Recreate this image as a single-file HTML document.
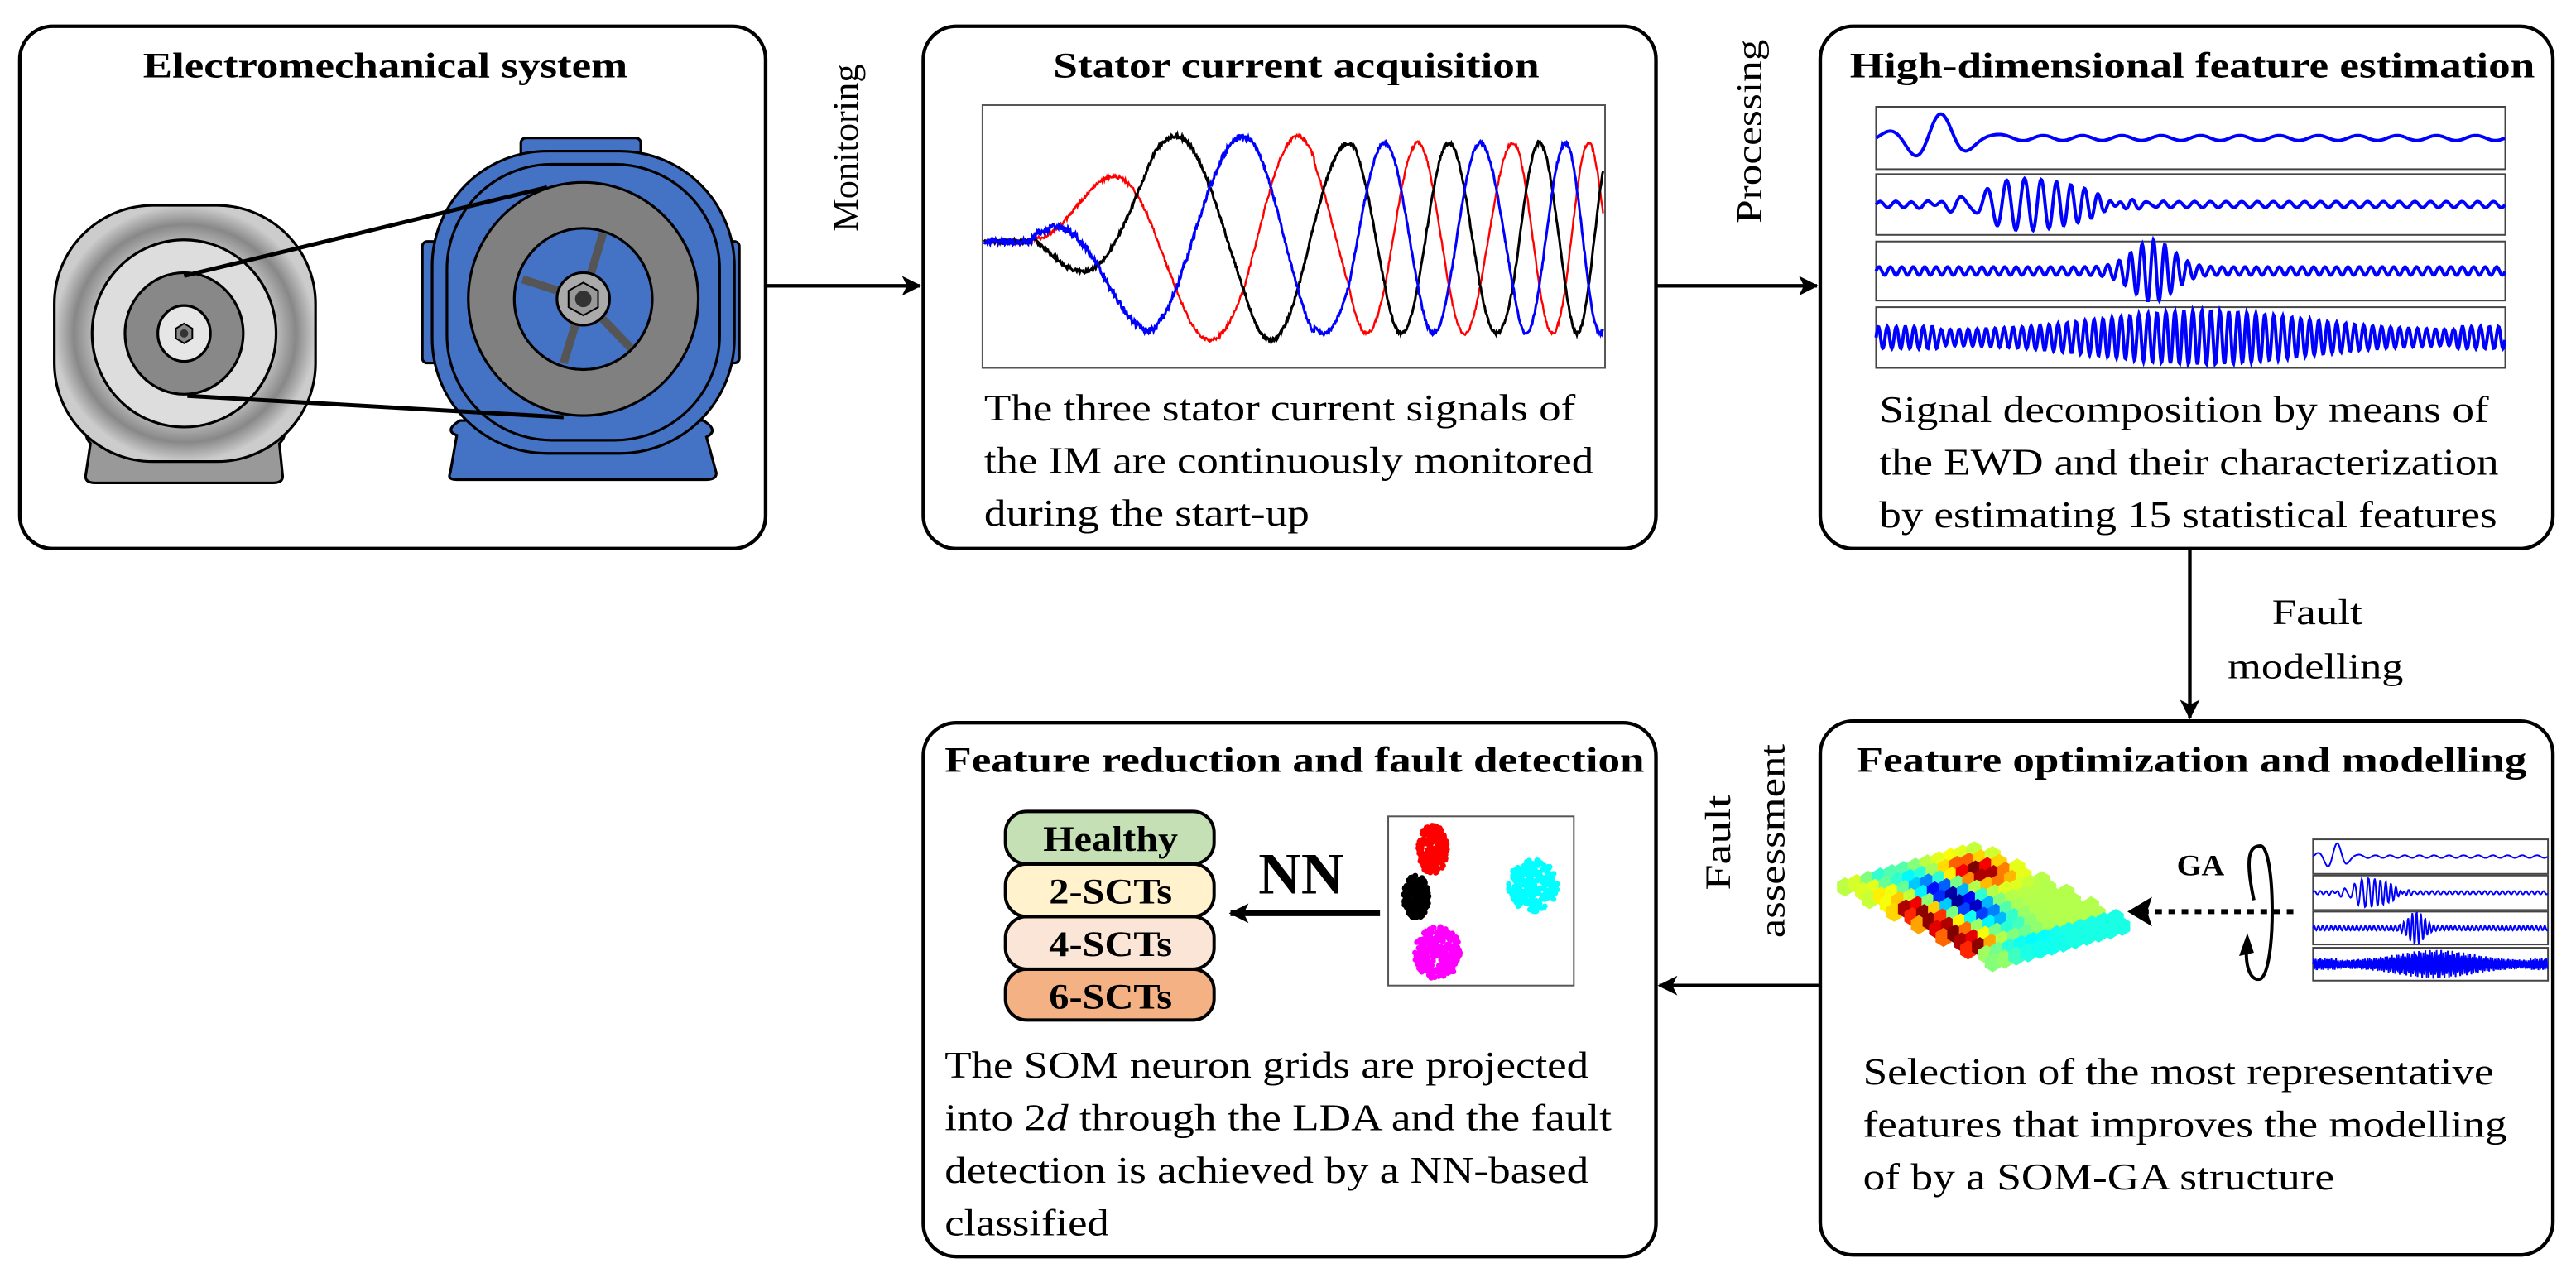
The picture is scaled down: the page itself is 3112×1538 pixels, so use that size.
<!DOCTYPE html>
<html><head><meta charset="utf-8"><style>
html,body{margin:0;padding:0;background:#fff}
svg{display:block}
svg text{font-family:"Liberation Serif","DejaVu Serif","Times New Roman",serif !important;fill:#000}
</style></head><body>
<svg id="s" width="3112" height="1538" viewBox="0 0 1568 775" xmlns="http://www.w3.org/2000/svg">
<defs>
<marker id="ah" markerWidth="12" markerHeight="12" refX="11" refY="6" orient="auto" markerUnits="userSpaceOnUse">
<path d="M0,0 L12,6 L0,12 L3,6 Z" fill="#000"/></marker>
<radialGradient id="gg" cx="50%" cy="50%" r="50%">
<stop offset="0.6" stop-color="#ddd"/><stop offset="0.85" stop-color="#888"/><stop offset="1" stop-color="#ccc"/></radialGradient>
</defs>
<g fill="none" stroke="#000" stroke-width="2.2">
<rect x="12" y="16" width="454" height="318" rx="20"/>
<rect x="562" y="16" width="446" height="318" rx="20"/>
<rect x="1108" y="16" width="446" height="318" rx="20"/>
<rect x="1108" y="439" width="446" height="325" rx="20"/>
<rect x="562" y="440" width="446" height="325" rx="20"/>
</g>
<g stroke="#000" stroke-width="2.2" fill="none">
<line x1="466" y1="174" x2="560" y2="174" marker-end="url(#ah)"/>
<line x1="1008" y1="174" x2="1106" y2="174" marker-end="url(#ah)"/>
<line x1="1333" y1="334" x2="1333" y2="437" marker-end="url(#ah)"/>
<line x1="1108" y1="600" x2="1010" y2="600" marker-end="url(#ah)"/>
</g>
<g font-size="22">
<text transform="translate(522,90) rotate(-90)" text-anchor="middle" textLength="102" lengthAdjust="spacingAndGlyphs">Monitoring</text>
<text transform="translate(1072,80) rotate(-90)" text-anchor="middle" textLength="112" lengthAdjust="spacingAndGlyphs">Processing</text>
<text x="1383" y="380" textLength="55" lengthAdjust="spacingAndGlyphs">Fault</text>
<text x="1356" y="413" textLength="107" lengthAdjust="spacingAndGlyphs">modelling</text>
<text transform="translate(1053,513) rotate(-90)" text-anchor="middle" textLength="58" lengthAdjust="spacingAndGlyphs">Fault</text>
<text transform="translate(1086,512) rotate(-90)" text-anchor="middle" textLength="118" lengthAdjust="spacingAndGlyphs">assessment</text>
</g>
<g font-weight="bold" font-size="22">
<text x="87" y="47" textLength="295" lengthAdjust="spacingAndGlyphs">Electromechanical system</text>
<text x="641" y="47" textLength="296" lengthAdjust="spacingAndGlyphs">Stator current acquisition</text>
<text x="1126" y="47" textLength="417" lengthAdjust="spacingAndGlyphs">High-dimensional feature estimation</text>
<text x="1130" y="470" textLength="408" lengthAdjust="spacingAndGlyphs">Feature optimization and modelling</text>
<text x="575" y="470" textLength="426" lengthAdjust="spacingAndGlyphs">Feature reduction and fault detection</text>
</g>
<g font-size="23">
<text x="599" y="256" textLength="360" lengthAdjust="spacingAndGlyphs">The three stator current signals of</text>
<text x="599" y="288" textLength="371" lengthAdjust="spacingAndGlyphs">the IM are continuously monitored</text>
<text x="599" y="320" textLength="198" lengthAdjust="spacingAndGlyphs">during the start-up</text>
<text x="1144" y="257" textLength="371" lengthAdjust="spacingAndGlyphs">Signal decomposition by means of</text>
<text x="1144" y="289" textLength="377" lengthAdjust="spacingAndGlyphs">the EWD and their characterization</text>
<text x="1144" y="321" textLength="376" lengthAdjust="spacingAndGlyphs">by estimating 15 statistical features</text>
<text x="1134" y="660" textLength="384" lengthAdjust="spacingAndGlyphs">Selection of the most representative</text>
<text x="1134" y="692" textLength="392" lengthAdjust="spacingAndGlyphs">features that improves the modelling</text>
<text x="1134" y="724" textLength="287" lengthAdjust="spacingAndGlyphs">of by a SOM-GA structure</text>
<text x="575" y="656" textLength="392" lengthAdjust="spacingAndGlyphs">The SOM neuron grids are projected</text>
<text x="575" y="688" textLength="406" lengthAdjust="spacingAndGlyphs">into 2<tspan font-style="italic">d</tspan> through the LDA and the fault</text>
<text x="575" y="720" textLength="392" lengthAdjust="spacingAndGlyphs">detection is achieved by a NN-based</text>
<text x="575" y="752" textLength="100" lengthAdjust="spacingAndGlyphs">classified</text>
</g>
<g stroke="#000" stroke-width="1.6">
<path d="M55,270 Q48,262 60,258 L165,258 Q178,262 170,270 L172,290 Q172,294 166,294 L58,294 Q52,294 52,290 Z" fill="#999"/>
<rect x="33" y="125" width="159" height="156" rx="60" fill="url(#gg)"/>
<ellipse cx="112" cy="203" rx="56" ry="57" fill="#ddd"/>
<ellipse cx="112" cy="203" rx="36" ry="37" fill="#888"/>
<ellipse cx="112" cy="203" rx="16" ry="17" fill="#e6e6e6"/>
<path d="M112,197 l5,3 v6 l-5,3 l-5,-3 v-6z" fill="#888" stroke-width="1"/>
<circle cx="112" cy="203" r="2.5" fill="#333" stroke="none"/>
<path d="M278,265 Q270,262 280,256 L428,256 Q438,262 430,266 L436,288 Q436,292 430,292 L278,292 Q272,292 274,288 Z" fill="#4472c4"/>
<rect x="317" y="84" width="73" height="16" rx="3" fill="#4472c4"/>
<rect x="257" y="147" width="12" height="74" rx="3" fill="#4472c4"/>
<rect x="438" y="147" width="12" height="74" rx="3" fill="#4472c4"/>
<rect x="263" y="92" width="184" height="184" rx="70" fill="#4472c4"/>
<rect x="272" y="100" width="166" height="168" rx="64" fill="none"/>
<ellipse cx="355" cy="182" rx="70" ry="71" fill="#808080"/>
<ellipse cx="355" cy="182" rx="42" ry="43" fill="#4472c4"/>
<g stroke="#555" stroke-width="5"><line x1="355" y1="182" x2="367" y2="142"/><line x1="355" y1="182" x2="318" y2="170"/><line x1="355" y1="182" x2="384" y2="212"/><line x1="355" y1="182" x2="343" y2="221"/></g>
<circle cx="355" cy="182" r="16" fill="#aaa"/>
<path d="M355,172 l9,5 v10 l-9,5 l-9,-5 v-10z" fill="#999" stroke-width="1"/>
<circle cx="355" cy="182" r="5" fill="#333" stroke="none"/>
<line x1="112" y1="168" x2="333" y2="114" stroke-width="2.5"/>
<line x1="114" y1="241" x2="343" y2="254" stroke-width="2.5"/>
</g>
<rect x="598" y="64" width="379" height="160" fill="#fff" stroke="#555" stroke-width="1"/>
<g id="sig" fill="none"></g>
<g id="ewd"></g>
<g id="ewd2"></g>
<g id="som"></g>
<line x1="1396" y1="555" x2="1305" y2="555" stroke="#000" stroke-width="3" stroke-dasharray="4,4"/>
<path d="M1295,555 L1310,546 L1307,555 L1310,564 Z" fill="#000"/>
<text x="1325" y="533" font-weight="bold" font-size="18" textLength="29" lengthAdjust="spacingAndGlyphs">GA</text>
<path d="M1372,548 C1366,520 1370,515 1376,515 C1385,515 1386,590 1376,596 C1369,598 1366,585 1368,574" fill="none" stroke="#000" stroke-width="2"/>
<path d="M1368,568 L1363,582 L1372,580 Z" fill="#000"/>
<g stroke="#000" stroke-width="2">
<rect x="612" y="590" width="127" height="31" rx="13" fill="#f4b183"/>
<rect x="612" y="558" width="127" height="32" rx="13" fill="#fbe5d6"/>
<rect x="612" y="526" width="127" height="32" rx="13" fill="#fff2cc"/>
<rect x="612" y="494" width="127" height="32" rx="13" fill="#c5e0b4"/>
</g>
<g font-weight="bold" font-size="22" text-anchor="middle">
<text x="676" y="518" textLength="82" lengthAdjust="spacingAndGlyphs">Healthy</text>
<text x="676" y="550" textLength="75" lengthAdjust="spacingAndGlyphs">2-SCTs</text>
<text x="676" y="582" textLength="75" lengthAdjust="spacingAndGlyphs">4-SCTs</text>
<text x="676" y="614" textLength="75" lengthAdjust="spacingAndGlyphs">6-SCTs</text>
</g>
<text x="792" y="544" font-weight="bold" font-size="36" text-anchor="middle" textLength="52" lengthAdjust="spacingAndGlyphs">NN</text>
<line x1="840" y1="556" x2="749" y2="556" stroke="#000" stroke-width="3.5" marker-end="url(#ah)"/>
<rect x="845" y="497" width="113" height="103" fill="#fff" stroke="#555" stroke-width="1"/>
<g id="sc"></g>
</svg>
<script>
var NS="http://www.w3.org/2000/svg";
function el(p,t,a){var e=document.createElementNS(NS,t);for(var k in a)e.setAttribute(k,a[k]);p.appendChild(e);return e;}
var seed=7;function rnd(){seed=(seed*16807)%2147483647;return seed/2147483647;}
var pk=[572,620,668,716,757,790,821,843,863,882,901,921,937,953,967,981];
function phi(x){
 for(var i=0;i<pk.length-1;i++){if(x<=pk[i+1]){var f=(x-pk[i])/(pk[i+1]-pk[i]);return (i-3+f)*2*Math.PI/3;}}
 return (pk.length-4)*2*Math.PI/3;
}
var g=document.getElementById('sig');
var pts=[[],[],[]];
for(var x=599;x<=976;x+=0.4){
 var p=phi(x);
 var A=x<628?0:Math.min(1,(x-628)/75);
 var amp=A*(x<800?62:58);
 for(var i=0;i<3;i++){
  var y=145-amp*Math.cos(p-i*2*Math.PI/3);
  if(x<628)y=147;
  var n=(i==1&&x<760)?4:2;
  y+=(rnd()-0.5)*n;
  pts[i].push(x.toFixed(1)+','+y.toFixed(1));}
}
el(g,'polyline',{points:pts[2].join(' '),stroke:'#f00','stroke-width':1.2});
el(g,'polyline',{points:pts[0].join(' '),stroke:'#000','stroke-width':1.5});
el(g,'polyline',{points:pts[1].join(' '),stroke:'#00f','stroke-width':1.5});
function panel(par,x0,y0,w,h,kind,sw,lw){
 el(par,'rect',{x:x0,y:y0,width:w,height:h,fill:'#fff',stroke:'#444','stroke-width':1});
 var p=[];var cy=y0+h/2;
 for(var x=0;x<=w;x+=0.4){var t=x/w,y;
  if(kind==0){y=Math.exp(-Math.pow((t-0.1)/0.06,2))*h*0.42*Math.sin(t*2*Math.PI*12)+h*0.04*Math.sin(t*2*Math.PI*16);}
  else if(kind==1){y=Math.exp(-Math.pow((t-0.25)/0.1,2))*h*0.42*Math.sin(2*Math.PI*(8*t+60*t*t))+h*0.05*Math.sin(t*2*Math.PI*40);}
  else if(kind==2){y=Math.exp(-Math.pow((t-0.44)/0.045,2))*h*0.45*Math.sin(t*2*Math.PI*55)+h*0.07*Math.sin(t*2*Math.PI*55);}
  else {var e=0.12+0.32*Math.exp(-Math.pow((t-0.52)/0.22,2));if(t<0.1||t>0.92)e=0.18;y=e*h*Math.sin(t*2*Math.PI*70*sw);}
  p.push((x0+x).toFixed(1)+','+(cy-y).toFixed(1));}
 el(par,'polyline',{points:p.join(' '),fill:'none',stroke:'#00f','stroke-width':lw});
}
var e=document.getElementById('ewd');
panel(e,1142,65,383,38,0,1,2);panel(e,1142,106,383,37,1,1,2);panel(e,1142,147,383,36,2,1,2);panel(e,1142,187,383,37,3,1,2);
var e2=document.getElementById('ewd2');
panel(e2,1408,511,143,21,0,1.5,1);panel(e2,1408,533,143,21,1,1.5,1);panel(e2,1408,555,143,20,2,1.5,1);panel(e2,1408,577,143,20,3,1.5,1);
function jet(v){v=Math.max(0,Math.min(1,v));var r=Math.min(4*v-1.5,-4*v+4.5),gg=Math.min(4*v-0.5,-4*v+3.5),b=Math.min(4*v+0.5,-4*v+2.5);
 function c(q){return Math.round(255*Math.max(0,Math.min(1,q)));}return 'rgb('+c(r)+','+c(gg)+','+c(b)+')';}
var s=document.getElementById('som');var N=12,M=13;
for(var j=0;j<M;j++)for(var i=0;i<N;i++){
 var u=(i+(j%2)*0.5)/N,v=j/(M-1);
 var X=1123+86*u+90*v,Y=540-24*u+46*v;
 var val=0.55;
 val+=0.45*Math.exp(-Math.pow((u-0.15+0.1*v)/0.1,2))*(v>0.25&&v<0.85?1:0.3);
 val-=0.55*Math.exp(-Math.pow((u-0.4)/0.12,2))*Math.exp(-Math.pow((v-0.4)/0.3,2));
 val+=0.5*Math.exp(-(Math.pow(u-0.75,2)+Math.pow(v-0.2,2))/0.02);
 val-=0.2*Math.exp(-Math.pow((u-0.2)/0.1,2))*Math.exp(-Math.pow(v/0.15,2));
 val-=0.15*(v>0.9?1:0);
 var r=5.6,hp=[];for(var k=0;k<6;k++){var a=Math.PI/3*k+Math.PI/6;hp.push((X+r*Math.cos(a)).toFixed(1)+','+(Y+r*1.05*Math.sin(a)).toFixed(1));}
 el(s,'polygon',{points:hp.join(' '),fill:jet(val)});
}
var sc=document.getElementById('sc');
function cl(cx,cy,sx,sy,col){for(var k=0;k<260;k++){var a=rnd()*6.283,r=Math.sqrt(rnd());el(sc,'circle',{cx:cx+Math.cos(a)*r*sx,cy:cy+Math.sin(a)*r*sy,r:1.7,fill:col});}}
cl(872,517,9,15,'#f00');cl(862,546,8,13,'#000');cl(933,539,15,16,'#0ff');cl(875,580,14,16,'#f0f');
</script>
</body></html>
